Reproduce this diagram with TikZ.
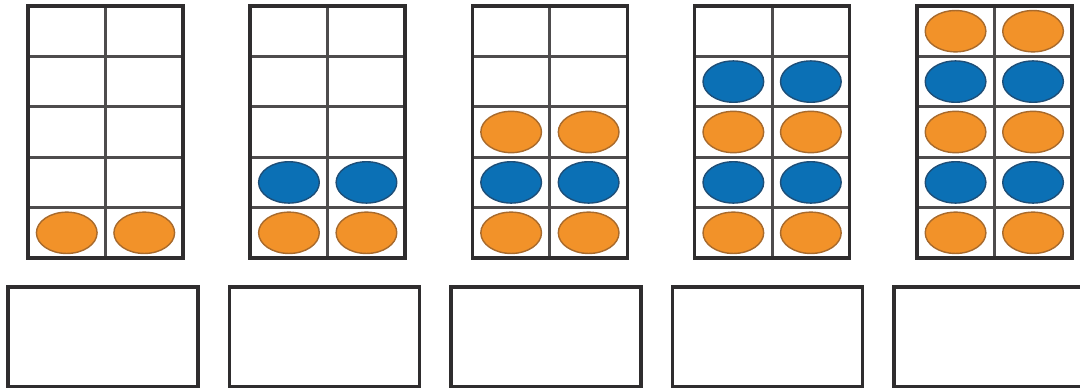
\documentclass[tikz,border=0pt]{standalone}
\usepackage{tikz}
\usetikzlibrary{shapes.geometric}
\definecolor{gridgray}{HTML}{2F2D2E}
\definecolor{cntorange}{HTML}{F29229}
\definecolor{orangeedge}{HTML}{A86A2C}
\definecolor{cntblue}{HTML}{0B70B5}
\definecolor{blueedge}{HTML}{1D4E78}
\begin{document}
\begin{tikzpicture}[x=0.03cm,y=-0.03cm,fr/.style={draw=gridgray,line width=3pt},gl/.style={draw=gridgray!85,line width=2.7pt},bx/.style={draw=gridgray,line width=3pt},oc/.style={ellipse,draw=orangeedge,fill=cntorange,line width=1.2pt,minimum width=1.82cm,minimum height=1.24cm,inner sep=0pt},bc/.style={oc,draw=blueedge,fill=cntblue}]
\clip (0,0) rectangle (1080,388);
\fill[white] (0,0) rectangle (1080,388);
\foreach \k in {1,...,5}{
  \pgfmathsetmacro\xl{28+222.2*(\k-1)}
  \pgfmathsetmacro\bl{8+221.5*(\k-1)}
  % ten-frame
  \draw[gl] (\xl+77.5,6)--(\xl+77.5,258);
  \foreach \j in {1,...,4}
    \draw[gl] (\xl,6+50.4*\j)--(\xl+155,6+50.4*\j);
  \draw[fr] (\xl,6) rectangle (\xl+155,258);
  % counters, from the bottom row up
  \foreach \r in {1,...,\k}{
    \pgfmathsetmacro\yc{258-25.2-50.4*(\r-1)}
    \pgfmathtruncatemacro\odd{mod(\r,2)}
    \ifnum\odd=1
      \node[oc] (c-\k-\r-l) at (\xl+38.75,\yc) {};
      \node[oc] (c-\k-\r-r) at (\xl+116.25,\yc) {};
    \else
      \node[bc] (c-\k-\r-l) at (\xl+38.75,\yc) {};
      \node[bc] (c-\k-\r-r) at (\xl+116.25,\yc) {};
    \fi
  }
  % answer box
  \draw[bx] (\bl,287) rectangle (\bl+190,387);
}
\end{tikzpicture}
\end{document}
